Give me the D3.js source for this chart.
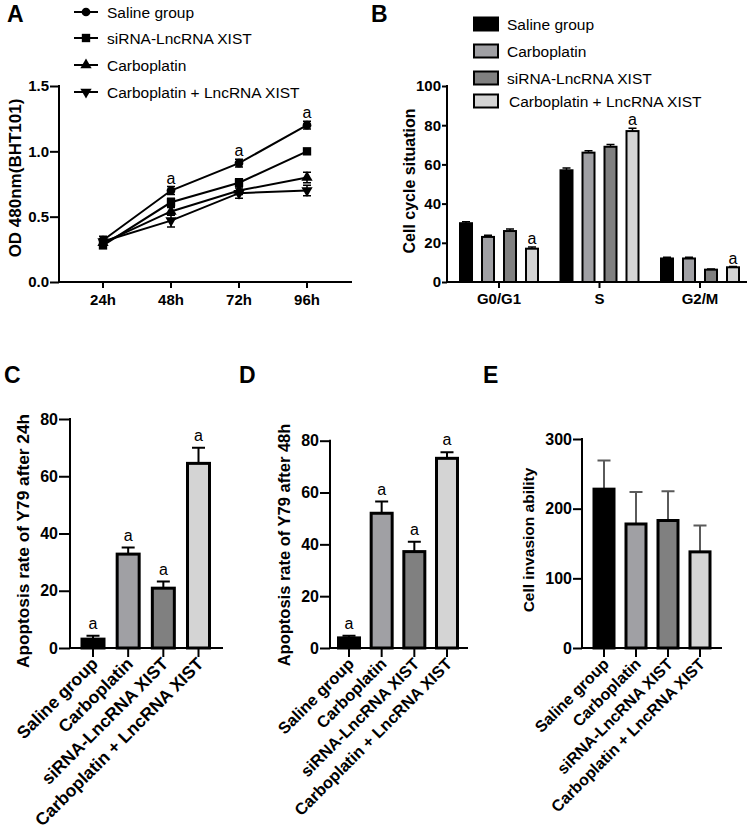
<!DOCTYPE html>
<html><head><meta charset="utf-8">
<script src="https://cdn.jsdelivr.net/npm/d3@7"></script>
<style>body{margin:0;background:#fff} text{font-family:"Liberation Sans",Arial,Helvetica,sans-serif;fill:#000}</style>
</head><body><svg id="c" width="748" height="831"></svg>
<script>
// ---------- DATA ----------
const timePoints = ["24h","48h","72h","96h"];
const odSeriesNames = ["Saline group","siRNA-LncRNA XIST","Carboplatin","Carboplatin + LncRNA XIST"];
const odSaline = [0.32,0.70,0.91,1.20];
const odSalineErr = [0.03,0.03,0.03,0.03];
const odSirna = [0.28,0.61,0.76,1.00];
const odSirnaErr = [0.02,0.03,0.03,0.02];
const odCarbo = [0.30,0.54,0.70,0.80];
const odCarboErr = [0.02,0.03,0.03,0.04];
const odCarboXist = [0.31,0.47,0.68,0.70];
const odCarboXistErr = [0.02,0.05,0.04,0.04];
const odTicks = [0,0.5,1.0,1.5];
const odSignif = [false,true,true,true];

const groups = ["Saline group","Carboplatin","siRNA-LncRNA XIST","Carboplatin + LncRNA XIST"];
const phases = ["G0/G1","S","G2/M"];
const cycleSaline = [30,57,12];
const cycleSalineErr = [0.8,1.2,0.6];
const cycleCarbo = [23,66,12];
const cycleCarboErr = [0.8,1.0,0.6];
const cycleSirna = [26,69,6.3];
const cycleSirnaErr = [1.0,1.2,0.3];
const cycleCarboXist = [17,77,7.5];
const cycleCarboXistErr = [0.8,1.5,0.4];
const cycleTicks = [0,20,40,60,80,100];
const cycleSignif = [true,true,true]; // on Carboplatin + LncRNA XIST bar

const apop24 = [3.1,32.8,20.9,64.5];
const apop24Err = [1.2,2.3,2.3,5.5];
const apop48 = [3.9,52,37.2,73.2];
const apop48Err = [0.8,4.5,3.8,2.3];
const apopTicks = [0,20,40,60,80];
const invasion = [228,178,183,138];
const invasionErr = [41,46,42,38];
const invasionTicks = [0,100,200,300];

const groupColors = ["#000000","#a0a0a4","#808080","#d4d4d4"];

// ---------- DRAW ----------
const svg = d3.select("#c");
const F = '"Liberation Sans",Arial,Helvetica,sans-serif';

function panelLabel(t,x,y){
  svg.append("text").attr("x",x).attr("y",y).attr("font-size",23).attr("font-weight","bold").text(t);
}
function yAxis(g, y, x0, ticks, fmt, tickLen, fs){
  const ax = d3.axisLeft(y).tickValues(ticks).tickFormat(fmt).tickSize(tickLen).tickPadding(1);
  const a = g.append("g").attr("transform",`translate(${x0},0)`).call(ax);
  a.select(".domain").attr("stroke","#000").attr("stroke-width",2).attr("d",`M0,${y.range()[0]+1}V${y.range()[1]-1}`);
  a.selectAll(".tick line").attr("stroke","#000").attr("stroke-width",2);
  a.selectAll(".tick text").attr("font-size",fs).attr("font-weight","bold").attr("font-family",F).attr("fill","#000");
}
function yLabel(t,x,y,fs){
  svg.append("text").attr("transform",`translate(${x},${y}) rotate(-90)`).attr("text-anchor","middle")
    .attr("font-size",fs).attr("font-weight","bold").text(t);
}

// ===== Panel A =====
(function(){
  const g = svg.append("g");
  const x = d3.scalePoint().domain(timePoints).range([103,307]);
  const y = d3.scaleLinear().domain([0,1.5]).range([282,86]);
  g.append("line").attr("x1",59).attr("x2",352).attr("y1",282).attr("y2",282).attr("stroke","#000").attr("stroke-width",2);
  timePoints.forEach(t=>{
    g.append("line").attr("x1",x(t)).attr("x2",x(t)).attr("y1",282).attr("y2",288).attr("stroke","#000").attr("stroke-width",2);
    g.append("text").attr("x",x(t)).attr("y",305).attr("text-anchor","middle").attr("font-size",15).attr("font-weight","bold").text(t);
  });
  yAxis(g,y,59,odTicks,d3.format(".1f"),9,15);
  const series = [
    {v:odSaline,e:odSalineErr,sym:d3.symbolCircle,size:60},
    {v:odSirna,e:odSirnaErr,sym:d3.symbolSquare,size:70},
    {v:odCarbo,e:odCarboErr,sym:d3.symbolTriangle,size:55},
    {v:odCarboXist,e:odCarboXistErr,sym:d3.symbolTriangle,size:55,rot:180}
  ];
  const line = d3.line().x((d,i)=>x(timePoints[i])).y(d=>y(d));
  series.forEach(s=>{
    g.append("path").attr("d",line(s.v)).attr("fill","none").attr("stroke","#000").attr("stroke-width",2);
    s.v.forEach((v,i)=>{
      const cx = x(timePoints[i]);
      g.append("path").attr("d",`M${cx},${y(v-s.e[i])}V${y(v+s.e[i])}M${cx-4},${y(v-s.e[i])}H${cx+4}M${cx-4},${y(v+s.e[i])}H${cx+4}`)
        .attr("stroke","#000").attr("stroke-width",1.5).attr("fill","none");
      g.append("path").attr("d",d3.symbol(s.sym,s.size)()).attr("transform",`translate(${cx},${y(v)}) rotate(${s.rot||0})`).attr("fill","#000");
    });
  });
  odSaline.forEach((v,i)=>{ if(odSignif[i]) g.append("text").attr("x",x(timePoints[i])).attr("y",y(v+odSalineErr[i])-3)
    .attr("text-anchor","middle").attr("font-size",16).text("a"); });
  const legY=[12,38,65,92];
  odSeriesNames.forEach((n,i)=>{
    const s=series[i];
    g.append("line").attr("x1",74).attr("x2",98).attr("y1",legY[i]).attr("y2",legY[i]).attr("stroke","#000").attr("stroke-width",2);
    g.append("path").attr("d",d3.symbol(s.sym,s.size)()).attr("transform",`translate(86,${legY[i]}) rotate(${s.rot||0})`).attr("fill","#000");
    g.append("text").attr("x",107).attr("y",legY[i]+5.5).attr("font-size",15.5).text(n);
  });
  yLabel("OD 480nm(BHT101)",21,178,17);
  panelLabel("A",7,22);
})();

// ===== Panel B =====
(function(){
  const g = svg.append("g");
  const x0 = d3.scalePoint().domain(phases).range([499,700]);
  const y = d3.scaleLinear().domain([0,100]).range([282,86]);
  const vals=[cycleSaline,cycleCarbo,cycleSirna,cycleCarboXist];
  const errs=[cycleSalineErr,cycleCarboErr,cycleSirnaErr,cycleCarboXistErr];
  const step=22, bw=12;
  phases.forEach((p,pi)=>{
    vals.forEach((arr,si)=>{
      const cx = x0(p)+(si-1.5)*step;
      const v=arr[pi], e=errs[si][pi];
      g.append("path").attr("d",`M${cx},${y(v)}V${y(v+e)}M${cx-4},${y(v+e)}H${cx+4}`).attr("stroke","#000").attr("stroke-width",1.5);
      g.append("rect").attr("x",cx-bw/2).attr("y",y(v)).attr("width",bw).attr("height",y(0)-y(v))
        .attr("fill",groupColors[si]).attr("stroke","#000").attr("stroke-width",2);
      if(si===3 && cycleSignif[pi]) g.append("text").attr("x",cx).attr("y",y(v+e)-3).attr("text-anchor","middle").attr("font-size",16).text("a");
    });
  });
  g.append("line").attr("x1",447).attr("x2",747).attr("y1",282).attr("y2",282).attr("stroke","#000").attr("stroke-width",2);
  phases.forEach(p=>{
    g.append("line").attr("x1",x0(p)).attr("x2",x0(p)).attr("y1",282).attr("y2",288).attr("stroke","#000").attr("stroke-width",2);
    g.append("text").attr("x",x0(p)).attr("y",304).attr("text-anchor","middle").attr("font-size",15).attr("font-weight","bold").text(p);
  });
  yAxis(g,y,447,cycleTicks,d3.format("d"),5,15);
  const legY=[24,51,78,101];
  groups.forEach((n,i)=>{
    g.append("rect").attr("x",474).attr("y",legY[i]-6.5).attr("width",24).attr("height",13).attr("fill",groupColors[i]).attr("stroke","#000").attr("stroke-width",2);
    g.append("text").attr("x",i===3?509:507).attr("y",legY[i]+6).attr("font-size",15.5).text(n);
  });
  yLabel("Cell cycle situation",415,181,16);
  panelLabel("B",371,22);
})();

// ===== Panels C, D, E =====
function barPanel(o){
  const g = svg.append("g");
  const x = d3.scalePoint().domain(groups).range(o.xr);
  const y = d3.scaleLinear().domain(o.yd).range([648,o.ytop]);
  o.vals.forEach((v,i)=>{
    const cx=x(groups[i]), e=o.errs[i];
    g.append("path").attr("d",`M${cx},${y(v)}V${y(v+e)}M${cx-6.5},${y(v+e)}H${cx+6.5}`).attr("stroke",o.errColor).attr("stroke-width",2);
    g.append("rect").attr("x",cx-o.bw/2).attr("y",y(v)).attr("width",o.bw).attr("height",y(0)-y(v))
      .attr("fill",groupColors[i]).attr("stroke","#000").attr("stroke-width",3);
    if(o.signif) g.append("text").attr("x",cx).attr("y",y(v+e)-7).attr("text-anchor","middle").attr("font-size",16).text("a");
  });
  g.append("line").attr("x1",o.ax).attr("x2",o.axEnd).attr("y1",648).attr("y2",648).attr("stroke","#000").attr("stroke-width",2);
  groups.forEach(n=>{
    const cx=x(n);
    g.append("line").attr("x1",cx).attr("x2",cx).attr("y1",648).attr("y2",657).attr("stroke","#000").attr("stroke-width",2);
    g.append("text").attr("transform",`translate(${cx+6},${665}) rotate(-45)`).attr("text-anchor","end")
      .attr("font-size",o.xfs).attr("font-weight","bold").text(n);
  });
  yAxis(g,y,o.ax,o.ticks,d3.format("d"),o.tickLen,16);
  yLabel(o.ylab,o.ylx,o.yly,o.ylfs);
}
barPanel({xr:[93,198.5],yd:[0,80],ytop:419,vals:apop24,errs:apop24Err,bw:22,ax:70,axEnd:223,ticks:apopTicks,tickLen:11,
  errColor:"#000",signif:true,xfs:17.5,ylab:"Apoptosis rate of Y79 after 24h",ylx:29,yly:541,ylfs:17.3});
barPanel({xr:[349,447],yd:[0,80],ytop:440.7,vals:apop48,errs:apop48Err,bw:21,ax:330,axEnd:468,ticks:apopTicks,tickLen:10,
  errColor:"#000",signif:true,xfs:16.4,ylab:"Apoptosis rate of Y79 after 48h",ylx:290,yly:545,ylfs:16.5});
barPanel({xr:[604,700],yd:[0,300],ytop:439,vals:invasion,errs:invasionErr,bw:20,ax:582,axEnd:722,ticks:invasionTicks,tickLen:9,
  errColor:"#5a5a5a",signif:false,xfs:16,ylab:"Cell invasion ability",ylx:534,yly:540,ylfs:15.5});
panelLabel("C",4,383);
panelLabel("D",239,383);
panelLabel("E",483,383);
</script></body></html>
